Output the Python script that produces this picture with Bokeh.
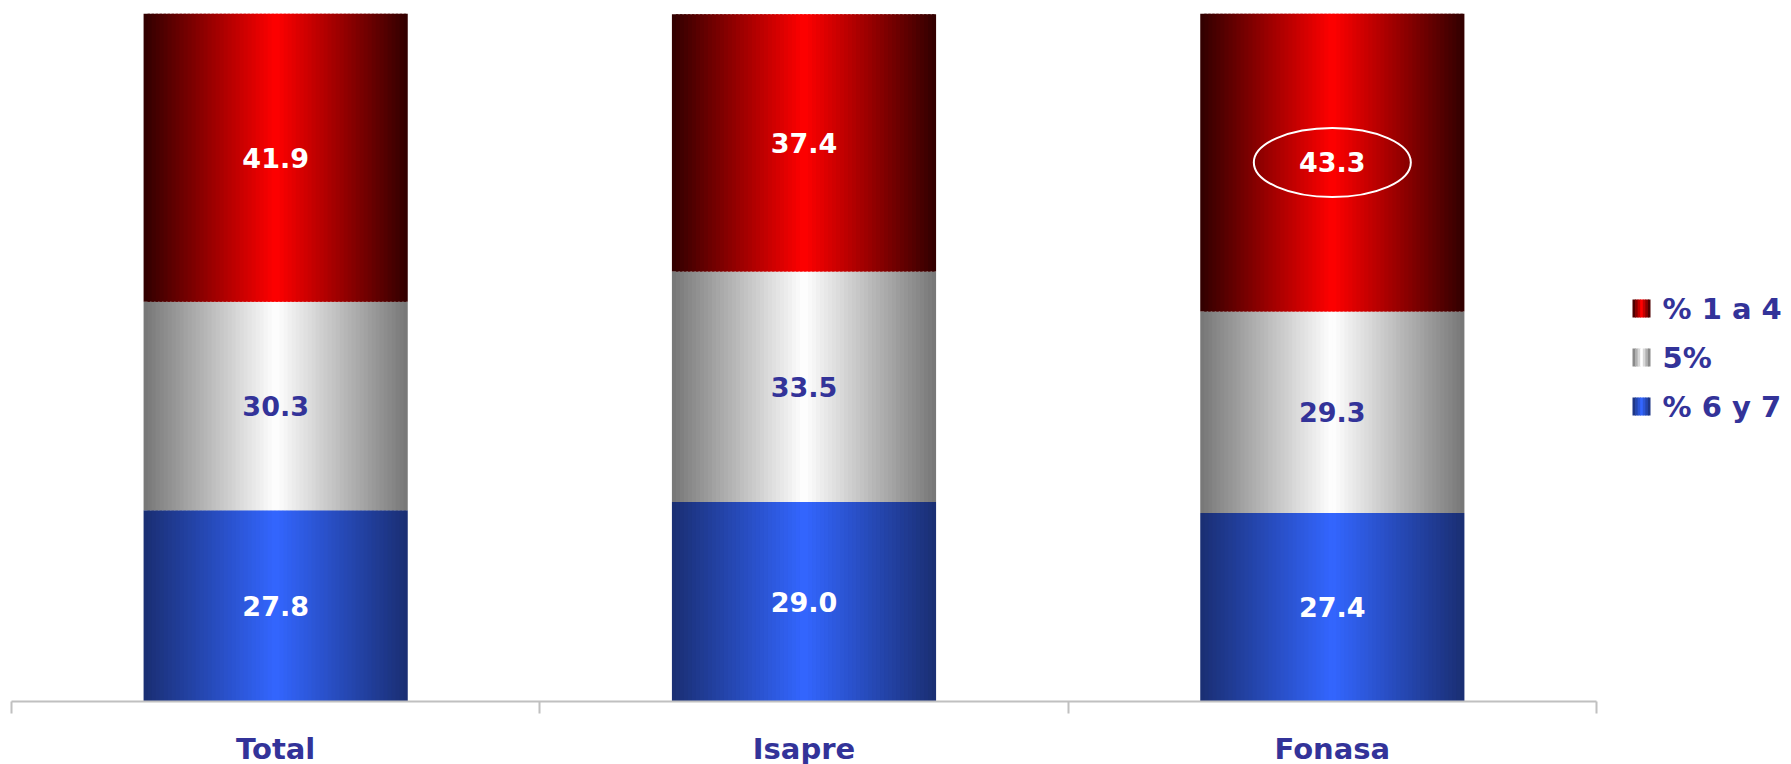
import numpy as np
from bokeh.plotting import figure
from bokeh.models import ColumnDataSource, Range1d, FixedTicker
from bokeh.layouts import row
from bokeh.embed import file_html
from bokeh.resources import INLINE
from bokeh.core.properties import value

# ---------------- data ----------------
categories = ["Total", "Isapre", "Fonasa"]
series_names = ["% 1 a 4", "5%", "% 6 y 7"]          # legend order (top -> bottom)
pct_1_a_4 = [41.9, 37.4, 43.3]
pct_5 = [30.3, 33.5, 29.3]
pct_6_y_7 = [27.8, 29.0, 27.4]
highlight_category = "Fonasa"
highlight_series = "% 1 a 4"

# ---------------- styles ----------------
FONT = "DejaVu Sans"
NAVY = "#333399"
style = {
    "% 1 a 4": dict(edge=(48, 0, 0), center=(255, 0, 0), text="white"),
    "5%": dict(edge=(118, 118, 118), center=(255, 255, 255), text=NAVY),
    "% 6 y 7": dict(edge=(26, 46, 114), center=(51, 102, 255), text="white"),
}
values = {"% 1 a 4": pct_1_a_4, "5%": pct_5, "% 6 y 7": pct_6_y_7}
stack_order = ["% 6 y 7", "5%", "% 1 a 4"]  # bottom -> top

N_STRIPS = 66
BAR_W = 0.5


def mix(c0, c1, t):
    return "#%02x%02x%02x" % tuple(int(round(a + (b - a) * t)) for a, b in zip(c0, c1))


def grad_color(name, frac):
    t = abs(frac - 0.5) * 2
    return mix(style[name]["center"], style[name]["edge"], t)


# gradient strips
strips = dict(left=[], right=[], bottom=[], top=[], color=[])
labels = dict(x=[], y=[], text=[], color=[])
ell = dict(x=[], y=[])
for i, cat in enumerate(categories):
    base = 0.0
    x0 = i + 0.5 - BAR_W / 2
    step = BAR_W / N_STRIPS
    for name in stack_order:
        v = values[name][i]
        for k in range(N_STRIPS):
            l = x0 + k * step
            r = min(l + step * 1.6, x0 + BAR_W)
            strips["left"].append(l)
            strips["right"].append(r)
            strips["bottom"].append(base)
            strips["top"].append(base + v)
            strips["color"].append(grad_color(name, (k + 0.5) / N_STRIPS))
        labels["x"].append(i + 0.5)
        labels["y"].append(base + v / 2)
        labels["text"].append("%.1f" % v)
        labels["color"].append(style[name]["text"])
        if cat == highlight_category and name == highlight_series:
            ell["x"].append(i + 0.5)
            ell["y"].append(base + v / 2)
        base += v

p = figure(frame_width=1585, frame_height=688, x_range=Range1d(0, len(categories)),
           y_range=Range1d(0, 100), y_axis_type=None, output_backend="svg",
           toolbar_location=None, title=None, min_border_top=13, min_border_left=11,
           min_border_right=12, min_border_bottom=63)
p.outline_line_color = None
p.xgrid.visible = False
p.ygrid.visible = False
p.background_fill_color = "white"

p.quad(left="left", right="right", bottom="bottom", top="top", fill_color="color",
       line_color=None, source=ColumnDataSource(strips))

p.text(x="x", y="y", text="text", text_color="color", source=ColumnDataSource(labels),
       text_align="center", text_baseline="middle", text_font=value(FONT),
       text_font_style="bold", text_font_size="27px")

p.ellipse(x="x", y="y", width=157, height=69, width_units="screen", height_units="screen",
          fill_color=None, line_color="white", line_width=2, source=ColumnDataSource(ell))

ax = p.xaxis[0]
centers = [i + 0.5 for i in range(len(categories))]
ax.ticker = FixedTicker(ticks=centers, minor_ticks=list(range(len(categories) + 1)))
ax.major_label_overrides = {c: cat for c, cat in zip(centers, categories)}
ax.major_tick_line_color = None
ax.major_tick_out = 0
ax.major_tick_in = 0
ax.minor_tick_out = 12
ax.minor_tick_in = 0
ax.minor_tick_line_color = "#c0c0c0"
ax.minor_tick_line_width = 2
ax.axis_line_color = "#c0c0c0"
ax.axis_line_width = 2
ax.major_label_standoff = 18
ax.major_label_text_font = FONT
ax.major_label_text_font_style = "bold"
ax.major_label_text_font_size = "29px"
ax.major_label_text_color = NAVY

# ---------------- legend (own small figure) ----------------
LW, LH = 183, 764
lg = figure(frame_width=LW, frame_height=LH, x_range=Range1d(0, LW), y_range=Range1d(LH, 0),
            x_axis_type=None, y_axis_type=None, output_backend="svg", title=None,
            toolbar_location=None, min_border=0, min_border_left=0, min_border_right=0,
            min_border_top=0, min_border_bottom=0)
lg.outline_line_color = None
lg.xgrid.visible = False
lg.ygrid.visible = False

SQ = 18
SQ_X = 24
ROW0 = 295
ROW_STEP = 49
LN = 7
lsq = dict(left=[], right=[], bottom=[], top=[], color=[])
ltx = dict(x=[], y=[], text=[])
for j, name in enumerate(series_names):
    yc = ROW0 + ROW_STEP * j
    for k in range(LN):
        l = SQ_X + k * SQ / LN
        lsq["left"].append(l)
        lsq["right"].append(min(l + SQ / LN * 1.3, SQ_X + SQ))
        lsq["bottom"].append(yc + SQ / 2)
        lsq["top"].append(yc - SQ / 2)
        lsq["color"].append(grad_color(name, (k + 0.5) / LN))
    ltx["x"].append(SQ_X + SQ + 12)
    ltx["y"].append(yc)
    ltx["text"].append(name)

lg.quad(left="left", right="right", bottom="bottom", top="top", fill_color="color",
        line_color=None, source=ColumnDataSource(lsq))
lg.text(x="x", y="y", text="text", source=ColumnDataSource(ltx), text_align="left",
        text_baseline="middle", text_font=value(FONT), text_font_style="bold",
        text_font_size="29px", text_color=NAVY)

layout = row(p, lg)
open("out.html", "w").write(file_html(layout, INLINE))
